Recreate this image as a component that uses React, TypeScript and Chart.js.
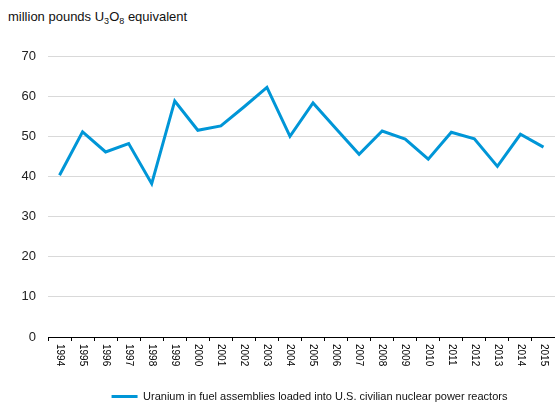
import React, { useEffect, useRef } from "react";
import { Chart, registerables } from "chart.js";

Chart.register(...registerables);

const years = [
  "1994", "1995", "1996", "1997", "1998", "1999", "2000", "2001", "2002", "2003", "2004",
  "2005", "2006", "2007", "2008", "2009", "2010", "2011", "2012", "2013", "2014", "2015",
];
const uranium = [
  40.3, 51.1, 46.1, 48.2, 38.2, 58.8, 51.5, 52.6, 57.3, 62.2, 50.0,
  58.3, 51.9, 45.5, 51.3, 49.3, 44.3, 51.0, 49.4, 42.5, 50.5, 47.3,
];
const seriesLabel = "Uranium in fuel assemblies loaded into U.S. civilian nuclear power reactors";
const yMin = 0;
const yMax = 70;
const yStep = 10;

const FONT = "'Liberation Sans', Arial, sans-serif";
const BLUE = "#0096D7";

const rotatedXLabels = {
  id: "rotatedXLabels",
  afterDraw(chart: any) {
    const xs = chart.scales.x;
    const ctx = chart.ctx;
    ctx.save();
    ctx.font = `10px ${FONT}`;
    ctx.fillStyle = "#000";
    ctx.textAlign = "left";
    ctx.textBaseline = "middle";
    years.forEach((lab, i) => {
      const x = xs.getPixelForValue(i);
      ctx.save();
      ctx.translate(x, xs.top + 7);
      ctx.rotate(Math.PI / 2);
      ctx.fillText(lab, 0, 0);
      ctx.restore();
    });
    ctx.restore();
  },
};

const shiftLegend = {
  id: "shiftLegend",
  afterLayout(chart: any) {
    const lg = chart.legend;
    if (lg) {
      lg.left += 8;
      lg.right += 8;
    }
  },
};

export default function App() {
  const ref = useRef<HTMLCanvasElement | null>(null);
  useEffect(() => {
    if (!ref.current) return;
    const chart = new Chart(ref.current, {
      type: "line",
      data: {
        labels: years,
        datasets: [
          {
            label: seriesLabel,
            data: uranium,
            borderColor: BLUE,
            backgroundColor: BLUE,
            borderWidth: 3,
            pointRadius: 0,
            tension: 0,
          },
        ],
      },
      options: {
        responsive: false,
        animation: false,
        layout: { padding: { top: 56, left: 8, right: 0, bottom: -7 } },
        scales: {
          x: {
            offset: true,
            grid: {
              display: true,
              drawOnChartArea: false,
              drawTicks: true,
              tickLength: 4,
              color: "#000",
              offset: true,
            },
            border: { display: true, color: "#000", width: 1 },
            ticks: { display: false },
            afterFit: (s: any) => {
              s.height = 48;
            },
          },
          y: {
            min: yMin,
            max: yMax,
            grid: { color: "#d9d9d9", drawTicks: false, lineWidth: 1 },
            border: { display: false },
            ticks: {
              stepSize: yStep,
              padding: 12,
              color: "#222",
              font: { family: FONT, size: 13 },
            },
            afterFit: (s: any) => {
              s.width = 40;
            },
          },
        },
        plugins: {
          legend: {
            position: "bottom",
            fullSize: false,
            labels: {
              boxWidth: 26,
              boxHeight: 3,
              padding: 6,
              color: "#111",
              font: { family: FONT, size: 11 },
              generateLabels: (chart: any) =>
                chart.data.datasets.map((ds: any, i: number) => ({
                  text: ds.label,
                  fillStyle: ds.borderColor,
                  strokeStyle: ds.borderColor,
                  lineWidth: 0,
                  hidden: false,
                  datasetIndex: i,
                  fontColor: "#111",
                })),
            },
          },
          tooltip: { enabled: false },
        },
      },
      plugins: [rotatedXLabels, shiftLegend],
    });
    return () => chart.destroy();
  }, []);

  return (
    <div style={{ position: "fixed", left: 0, top: 0, width: 555, height: 405, background: "#fff" }}>
      <div
        style={{
          position: "absolute",
          left: 8,
          top: 9,
          fontFamily: FONT,
          fontSize: 13,
          color: "#111",
          lineHeight: "15px",
          whiteSpace: "nowrap",
        }}
      >
        million pounds U<sub style={{ fontSize: 9, verticalAlign: "-3px" }}>3</sub>O
        <sub style={{ fontSize: 9, verticalAlign: "-3px" }}>8</sub> equivalent
      </div>
      <canvas ref={ref} width={555} height={405} style={{ position: "absolute", left: 0, top: 0 }} />
    </div>
  );
}
